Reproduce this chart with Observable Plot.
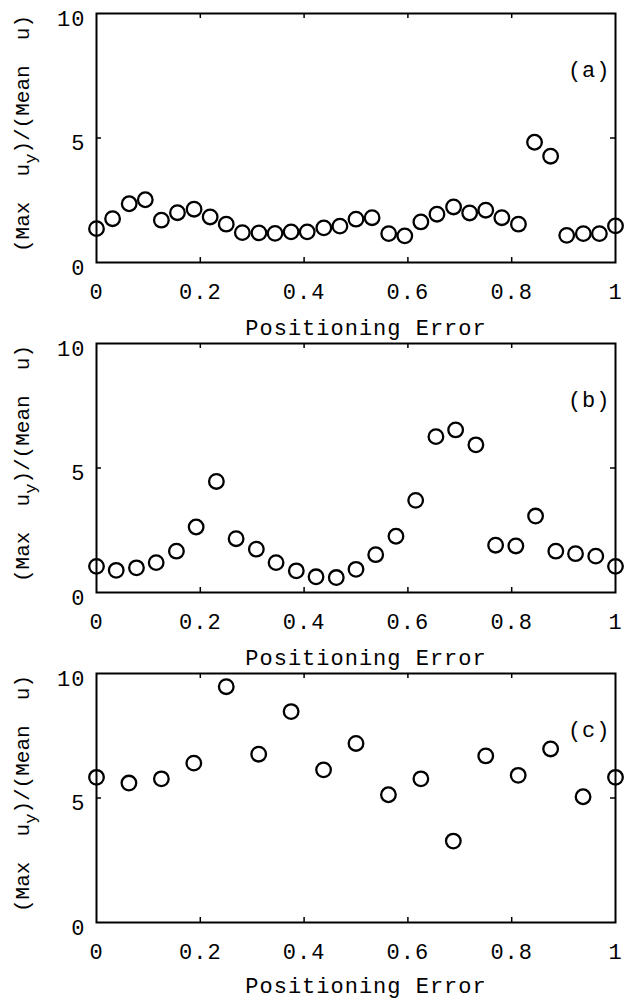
<!DOCTYPE html>
<html>
<head>
<meta charset="utf-8">
<script src="https://cdn.jsdelivr.net/npm/d3@7"></script>
<script src="https://cdn.jsdelivr.net/npm/@observablehq/plot@0.6"></script>
<style>
  html, body { margin: 0; padding: 0; background: #fff; }
  #chart svg { display: block; }
</style>
</head>
<body>
<div id="chart"></div>
<script>
// Positioning error (x) and peak-to-mean ratio (y) for each case
const errA = [0, 0.031, 0.063, 0.094, 0.125, 0.156, 0.188, 0.219, 0.25, 0.281, 0.313, 0.344, 0.375, 0.406, 0.438, 0.469, 0.5, 0.531, 0.563, 0.594, 0.625, 0.656, 0.688, 0.719, 0.75, 0.781, 0.813, 0.844, 0.875, 0.906, 0.938, 0.969, 1];
const ratioA = [1.36, 1.76, 2.36, 2.52, 1.70, 2.00, 2.14, 1.83, 1.54, 1.20, 1.19, 1.17, 1.23, 1.23, 1.39, 1.46, 1.74, 1.80, 1.16, 1.07, 1.63, 1.94, 2.23, 1.99, 2.10, 1.80, 1.54, 4.83, 4.27, 1.09, 1.16, 1.16, 1.47];

const errB = [0, 0.038, 0.077, 0.115, 0.154, 0.192, 0.231, 0.269, 0.308, 0.346, 0.385, 0.423, 0.462, 0.5, 0.538, 0.577, 0.615, 0.654, 0.692, 0.731, 0.769, 0.808, 0.846, 0.885, 0.923, 0.962, 1];
const ratioB = [1.05, 0.89, 0.99, 1.20, 1.66, 2.63, 4.46, 2.16, 1.74, 1.20, 0.87, 0.63, 0.60, 0.93, 1.52, 2.26, 3.70, 6.26, 6.53, 5.93, 1.90, 1.87, 3.07, 1.66, 1.56, 1.46, 1.05];

const errC = [0, 0.0625, 0.125, 0.1875, 0.25, 0.3125, 0.375, 0.4375, 0.5, 0.5625, 0.625, 0.6875, 0.75, 0.8125, 0.875, 0.9375, 1];
const ratioC = [5.83, 5.60, 5.77, 6.40, 9.47, 6.76, 8.47, 6.13, 7.19, 5.13, 5.77, 3.27, 6.69, 5.91, 6.97, 5.05, 5.83];

const xTicks = [0, 0.2, 0.4, 0.6, 0.8, 1];
const xInner = [0.2, 0.4, 0.6, 0.8];
const yTicks = [0, 5, 10];
const yInner = [5];
const panelLabels = ["(a)", "(b)", "(c)"];
const xTitle = "Positioning Error";

const panels = [
  {x: errA, y: ratioA, tag: panelLabels[0], extra: 0, titleDy: 65},
  {x: errB, y: ratioB, tag: panelLabels[1], extra: 0, titleDy: 65},
  {x: errC, y: ratioC, tag: panelLabels[2], extra: 10, titleDy: 63}
];

const W = 631, H = 330;
const M = {top: 13, right: 16, bottom: 68, left: 96};
const frameH = H - M.top - M.bottom;
const frameW = W - M.left - M.right;
const tickLen = 5;
const font = "'Liberation Mono', 'Courier New', monospace";
const fs = 22;

const root = document.getElementById("chart");

for (const p of panels) {
  const data = p.x.map((x, i) => ({x, y: p.y[i]}));
  const svg = Plot.plot({
    width: W,
    height: H + p.extra,
    marginTop: M.top,
    marginRight: M.right,
    marginBottom: M.bottom + p.extra,
    marginLeft: M.left,
    style: {fontFamily: font, fontSize: `${fs}px`, letterSpacing: "1px", color: "#000", background: "#fff", overflow: "visible"},
    x: {domain: [0, 1]},
    y: {domain: [0, 10]},
    marks: [
      Plot.axisX(xTicks, {anchor: "bottom", tickSize: 0, tickPadding: 21, label: null, fontSize: fs, tickFormat: d => String(d)}),
      Plot.axisY(yTicks, {anchor: "left", tickSize: 0, tickPadding: 11, label: null, dy: 5, fontSize: fs, tickFormat: d => String(d)}),
      // inward-pointing tick marks on all four sides
      Plot.tickX(xInner, {x: d => d, insetTop: frameH - tickLen, stroke: "#000", strokeWidth: 1.5}),
      Plot.tickX(xInner, {x: d => d, insetBottom: frameH - tickLen, stroke: "#000", strokeWidth: 1.5}),
      Plot.tickY(yInner, {y: d => d, insetRight: frameW - tickLen, stroke: "#000", strokeWidth: 1.5}),
      Plot.tickY(yInner, {y: d => d, insetLeft: frameW - tickLen, stroke: "#000", strokeWidth: 1.5}),
      Plot.frame({stroke: "#000", strokeWidth: 2}),
      Plot.dot(data, {x: "x", y: "y", r: 7.3, stroke: "#000", strokeWidth: 2.3, fill: "none"}),
      Plot.text([p.tag], {frameAnchor: "top-right", lineAnchor: "middle", textAnchor: "end", dx: -5, dy: 56, fontSize: fs}),
      Plot.text([xTitle], {frameAnchor: "bottom", lineAnchor: "middle", dx: 10, dy: p.titleDy, fontSize: fs})
    ]
  });

  // rotated y-axis title with subscript
  const t = d3.select(svg).append("text")
    .attr("transform", `translate(29,${M.top + frameH / 2 - 4}) rotate(-90)`)
    .attr("text-anchor", "middle")
    .attr("font-family", font)
    .attr("font-size", 21)
    .attr("letter-spacing", 0)
    .attr("fill", "#000")
    .style("white-space", "pre");
  t.append("tspan").text("(Max  u");
  t.append("tspan").attr("dy", 7).attr("font-size", 17).text("y");
  t.append("tspan").attr("dy", -7).text(")/(Mean  u)");

  root.appendChild(svg);
}
</script>
</body>
</html>
